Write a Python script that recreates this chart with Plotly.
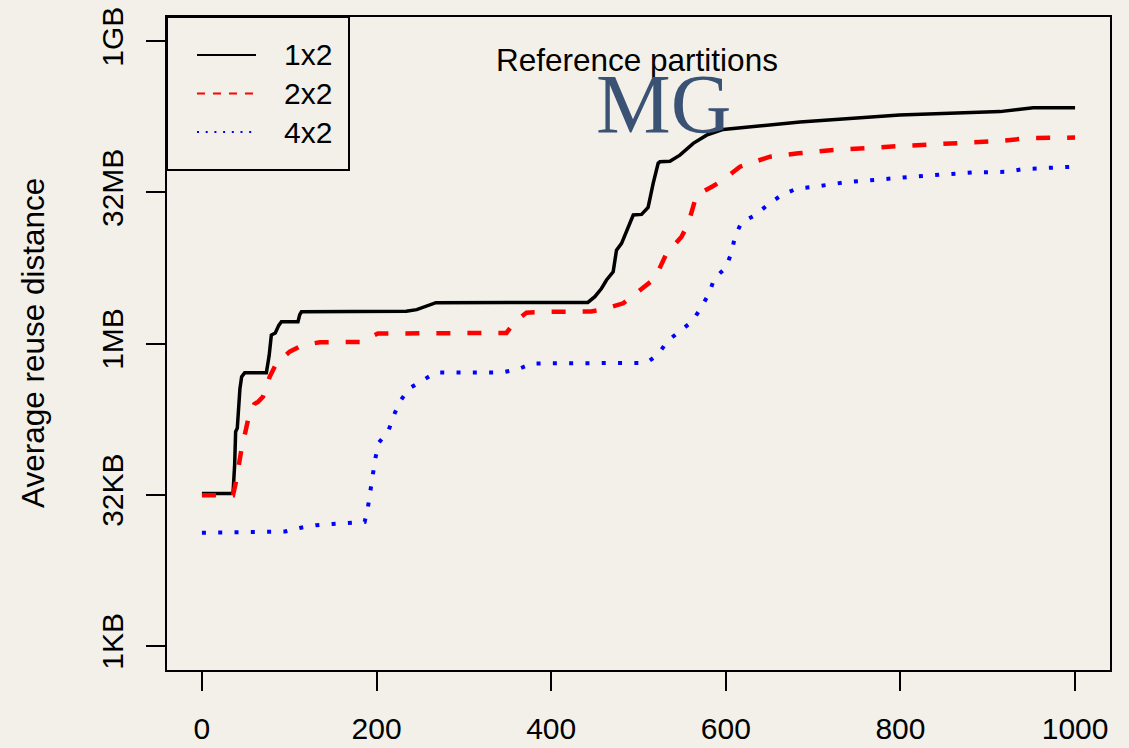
import numpy as np
import plotly.graph_objects as go

# Iteration index (x) and average reuse distance as log2(bytes) for each partitioning
iter_1x2 = [0, 35.6, 37.5, 38.6, 40.5, 43.5, 45.5, 49, 73.8, 77, 79.5, 84, 88, 91, 110, 112, 114,
            234, 246, 257, 268, 442, 450, 457.6, 463.4, 471, 474.8, 480.6, 486.3, 494, 503.5, 511,
            516.8, 522.5, 524.5, 536, 547.4, 562.7, 578, 597, 685, 799, 914, 937, 952, 1000]
log2_1x2 = [15.04, 15.04, 16.0, 17.08, 17.2, 18.5, 18.9, 19.03, 19.03, 19.6, 20.28, 20.35, 20.6, 20.72,
            20.72, 20.95, 21.05, 21.07, 21.12, 21.22, 21.35, 21.36, 21.55, 21.82, 22.1, 22.37, 23.09,
            23.31, 23.7, 24.25, 24.27, 24.5, 25.3, 25.96, 26.01, 26.03, 26.23, 26.62, 26.89, 27.08,
            27.33, 27.56, 27.67, 27.74, 27.8, 27.8]

iter_2x2 = [0, 35.6, 39.4, 45.1, 52.8, 60, 64.2, 69.9, 77.6, 85.2, 100.5, 115.7, 134.9, 184.5, 192,
            201.7, 348.8, 358.3, 371.7, 400, 446, 459.6, 482.5, 492, 509.2, 518.7, 532.1, 549.3, 557,
            566.5, 585.6, 597, 616.2, 639.1, 650.6, 683, 723.1, 799.4, 914, 948.4, 1000]
log2_2x2 = [14.98, 14.98, 15.48, 16.47, 17.47, 18.0, 18.07, 18.24, 18.9, 19.34, 19.73, 19.95, 20.04,
            20.05, 20.2, 20.33, 20.35, 20.72, 21.02, 21.05, 21.06, 21.13, 21.33, 21.55, 21.93, 22.15,
            22.98, 23.53, 23.97, 24.91, 25.21, 25.41, 25.85, 26.07, 26.18, 26.29, 26.4, 26.53, 26.7,
            26.8, 26.81]

iter_4x2 = [0, 75.7, 95, 112, 131, 150, 169.3, 186.4, 190.2, 193.3, 196, 198.6, 202.8, 213.5, 219.6,
            226.5, 237.2, 253.3, 267.8, 343, 361.4, 378.2, 509.2, 522.5, 533.2, 547.4, 561.9, 571.4,
            581, 586.7, 599.7, 606.5, 610.4, 618, 634, 648.5, 663.8, 681, 700, 736.4, 772.7, 810.9,
            847.2, 885.4, 921.7, 940.8, 1000]
log2_4x2 = [13.74, 13.76, 13.78, 13.9, 13.99, 14.03, 14.05, 14.1, 14.6, 15.15, 15.68, 16.2, 16.73,
            17.1, 17.61, 18.07, 18.51, 18.77, 19.04, 19.04, 19.14, 19.34, 19.36, 19.64, 20.08, 20.41,
            20.74, 21.18, 21.66, 22.15, 22.5, 23.0, 23.53, 24.01, 24.25, 24.6, 24.91, 25.12, 25.18,
            25.33, 25.43, 25.51, 25.59, 25.66, 25.68, 25.77, 25.85]

series_names = ["1x2", "2x2", "4x2"]

x_ticks = [0, 200, 400, 600, 800, 1000]
y_tick_exps = [10, 15, 20, 25, 30]
y_tick_labels = ["1KB", "32KB", "1MB", "32MB", "1GB"]

W, H = 1129, 748
ML, MR, MT, MB = 167, 19, 17, 78
PW, PH = W - ML - MR, H - MT - MB
BG = "#f3f0ea"
FONT = "Liberation Sans, Arial, Helvetica, sans-serif"


def px(xp):
    return (xp - ML) / PW


def py(yp):
    return 1 - (yp - MT) / PH


styles = [
    dict(color="black", width=3.5, dash="solid"),
    dict(color="#ff0000", width=4.5, dash="14px,17px"),
    dict(color="#0000ff", width=4, dash="4px,12.3px"),
]

fig = go.Figure()
for xs, ls, name, st in zip([iter_1x2, iter_2x2, iter_4x2], [log2_1x2, log2_2x2, log2_4x2],
                            series_names, styles):
    fig.add_trace(go.Scatter(
        x=xs, y=2.0 ** np.array(ls), mode="lines", name=name,
        line=dict(color=st["color"], width=st["width"], dash=st["dash"]),
        showlegend=False,
    ))

shapes = []
annotations = []

# Legend box in the top-left corner
shapes.append(dict(type="rect", xref="paper", yref="paper",
                   x0=px(ML), x1=px(349), y0=py(170), y1=py(MT),
                   line=dict(color="black", width=2), fillcolor=BG, layer="above"))
legend_styles = [
    dict(color="black", width=2, dash="solid"),
    dict(color="#ff0000", width=2, dash="8px,8px"),
    dict(color="#0000ff", width=2, dash="2px,6.7px"),
]
for i, (name, st) in enumerate(zip(series_names, legend_styles)):
    yc = 55 + i * 38.5
    shapes.append(dict(type="line", xref="paper", yref="paper",
                       x0=px(197), x1=px(256), y0=py(yc), y1=py(yc),
                       line=st, layer="above"))
    annotations.append(dict(text=name, xref="paper", yref="paper", x=px(282), y=py(yc),
                            xanchor="left", yanchor="middle", showarrow=False,
                            font=dict(family=FONT, size=30, color="black")))

annotations.append(dict(text="Reference partitions", xref="paper", yref="paper",
                        x=px(637), y=py(60.5), xanchor="center", yanchor="middle",
                        showarrow=False, font=dict(family=FONT, size=31.5, color="black")))
annotations.append(dict(text="MG", xref="paper", yref="paper",
                        x=px(663), y=py(104), xanchor="center", yanchor="middle",
                        showarrow=False,
                        font=dict(family="Liberation Serif, Times New Roman, serif", size=84,
                                  color="#3a5273")))
annotations.append(dict(text="Average reuse distance", xref="paper", yref="paper",
                        x=px(33), y=py(343), xanchor="center", yanchor="middle",
                        textangle=-90, showarrow=False,
                        font=dict(family=FONT, size=31.5, color="black")))

fig.update_layout(
    width=W, height=H,
    margin=dict(l=ML, r=MR, t=MT, b=MB, pad=0, autoexpand=False),
    paper_bgcolor=BG, plot_bgcolor=BG,
    font=dict(family=FONT, size=30, color="black"),
    shapes=shapes, annotations=annotations,
    showlegend=False,
)
fig.update_xaxes(
    range=[-40, 1040], tickvals=x_ticks, ticktext=[str(v) for v in x_ticks],
    showgrid=False, zeroline=False, showline=True, mirror=True, automargin=False,
    linecolor="black", linewidth=2, ticks="outside", ticklen=19, tickwidth=2,
    tickcolor="black", tickfont=dict(size=30), ticklabelstandoff=12,
)
fig.update_yaxes(
    type="log", range=[9.2 * np.log10(2), 30.8 * np.log10(2)],
    tickvals=[2.0 ** e for e in y_tick_exps], ticktext=y_tick_labels, tickangle=-90,
    showgrid=False, zeroline=False, showline=True, mirror=True, automargin=False,
    linecolor="black", linewidth=2, ticks="outside", ticklen=19, tickwidth=2,
    tickcolor="black", tickfont=dict(size=30), ticklabelstandoff=11,
)

fig.write_html("out.html")
